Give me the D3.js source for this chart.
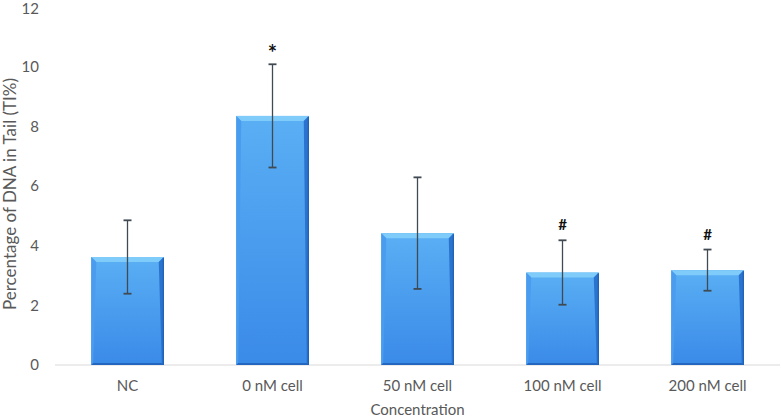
<!DOCTYPE html>
<html><head><meta charset="utf-8">
<script src="https://cdn.jsdelivr.net/npm/d3@7/dist/d3.min.js"></script>
<style>body{margin:0;background:#fff}svg{display:block}text{font-family:Lato,"Open Sans",sans-serif}</style>
</head><body>
<script>
const categories = ["NC","0 nM cell","50 nM cell","100 nM cell","200 nM cell"];
const values = [3.62, 8.35, 4.42, 3.10, 3.18];
const errors = [1.23, 1.73, 1.87, 1.08, 0.69];
const marks = ["", "*", "", "#", "#"];
const yTicks = [0,2,4,6,8,10,12];

const W=781,H=420;
const m={l:55,r:1,t:7,b:55};
const svg=d3.select("body").append("svg").attr("width",W).attr("height",H);
const x=d3.scaleBand().domain(categories).range([m.l,W-m.r]).paddingInner(0.5).paddingOuter(0.25);
const y=d3.scaleLinear().domain([0,12]).range([H-m.b,m.t]);

const defs=svg.append("defs");
const g=defs.append("linearGradient").attr("id","bg").attr("x1",0).attr("y1",0).attr("x2",0).attr("y2",1);
g.append("stop").attr("offset","0%").attr("stop-color","#5aaff4");
g.append("stop").attr("offset","100%").attr("stop-color","#3a8ae8");

// y axis labels (no line)
svg.append("g").selectAll("text").data(yTicks).join("text")
  .attr("x",m.l-16).attr("y",d=>Math.max(y(d),9)).attr("dy","0.36em").attr("text-anchor","end")
  .attr("font-size",15).attr("fill","#595959").text(d=>d);

// baseline
svg.append("line").attr("x1",m.l).attr("x2",W-m.r).attr("y1",y(0)).attr("y2",y(0))
  .attr("stroke","#d9d9d9").attr("stroke-width",1);

const bw=x.bandwidth(), bev=5;
const bars=svg.append("g").selectAll("g").data(categories).join("g");
bars.append("rect").attr("x",d=>x(d)).attr("y",(d,i)=>y(values[i])).attr("width",bw)
  .attr("height",(d,i)=>y(0)-y(values[i])).attr("fill","url(#bg)");
// top bevel
bars.append("path").attr("d",(d,i)=>{const x0=x(d),y0=y(values[i]);
  return `M${x0},${y0}L${x0+bw},${y0}L${x0+bw-bev},${y0+bev}L${x0+bev},${y0+bev}Z`;}).attr("fill","#7fcbf9");
// right bevel
bars.append("path").attr("d",(d,i)=>{const x0=x(d),y0=y(values[i]),yb=y(0);
  return `M${x0+bw},${y0}L${x0+bw},${yb}L${x0+bw-2},${yb-2}L${x0+bw-bev},${y0+bev}Z`;}).attr("fill","#2a74d0");
// left bevel
bars.append("path").attr("d",(d,i)=>{const x0=x(d),y0=y(values[i]),yb=y(0);
  return `M${x0},${y0}L${x0+bev},${y0+bev}L${x0+2},${yb-2}L${x0},${yb}Z`;}).attr("fill","#4a9cee");
// bottom bevel
bars.append("path").attr("d",(d,i)=>{const x0=x(d),yb=y(0);
  return `M${x0},${yb}L${x0+2},${yb-2}L${x0+bw-2},${yb-2}L${x0+bw},${yb}Z`;}).attr("fill","#2366c0");
// thin dark right edge
bars.append("line").attr("x1",d=>x(d)+bw-0.5).attr("x2",d=>x(d)+bw-0.5)
  .attr("y1",(d,i)=>y(values[i])+1).attr("y2",y(0)).attr("stroke","#1b58aa").attr("stroke-width",1);

// error bars
const eb=svg.append("g").attr("stroke","#3f4a52").attr("stroke-width",1.3);
categories.forEach((c,i)=>{
  const cx=x(c)+bw/2;
  eb.append("line").attr("x1",cx).attr("x2",cx).attr("y1",y(values[i]+errors[i])).attr("y2",y(values[i]-errors[i]));
  [values[i]+errors[i],values[i]-errors[i]].forEach(v=>{
    eb.append("line").attr("x1",cx-4).attr("x2",cx+4).attr("y1",y(v)).attr("y2",y(v)).attr("stroke-width",1.8);
  });
});

// significance marks
svg.append("g").selectAll("text").data(categories).join("text")
  .attr("x",d=>x(d)+bw/2).attr("y",(d,i)=>y(values[i]+errors[i])-(marks[i]==="*"?3:10))
  .attr("text-anchor","middle").attr("font-size",(d,i)=>marks[i]==="*"?22:15).attr("font-weight","bold").attr("fill","#111")
  .text((d,i)=>marks[i]);

// x tick labels
svg.append("g").selectAll("text").data(categories).join("text")
  .attr("x",d=>x(d)+bw/2).attr("y",y(0)+21).attr("dy","0.35em").attr("text-anchor","middle")
  .attr("font-size",15).attr("fill","#595959").text(d=>d);

// axis titles
svg.append("text").attr("x",(m.l+W-m.r)/2).attr("y",410).attr("dy","0.35em").attr("text-anchor","middle")
  .attr("font-size",15).attr("fill","#595959").text("Concentration");
svg.append("text").attr("transform",`translate(10,194) rotate(-90)`).attr("dy","0.35em")
  .attr("text-anchor","middle").attr("font-size",17).attr("fill","#595959").text("Percentage of DNA in Tail (TI%)");
</script>
</body></html>
